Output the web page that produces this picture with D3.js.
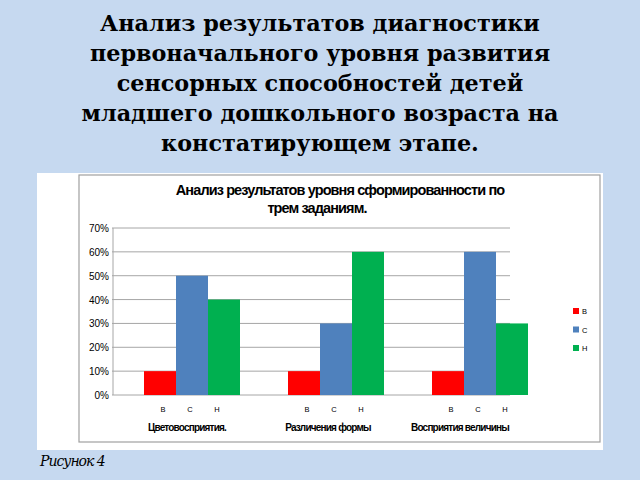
<!DOCTYPE html>
<html><head><meta charset="utf-8">
<script src="https://cdn.jsdelivr.net/npm/d3@7"></script>
<style>body{margin:0;background:#c6d9f0}</style></head>
<body><svg id="c" width="640" height="480"></svg>
<script>
const heading = ["Анализ результатов диагностики", "первоначального уровня развития",
  "сенсорных способностей детей", "младшего дошкольного возраста на", "констатирующем этапе."];
const categories = ["Цветовосприятия.", "Различения формы", "Восприятия величины"];
const series = ["В", "С", "Н"];
const colors = ["#ff0000", "#4f81bd", "#00b050"];
const values = [
  [0.10, 0.50, 0.40],
  [0.10, 0.30, 0.60],
  [0.10, 0.60, 0.30]
];
const yTicks = [0, 0.1, 0.2, 0.3, 0.4, 0.5, 0.6, 0.7];

const svg = d3.select("#c");
svg.append("rect").attr("width", 640).attr("height", 480).attr("fill", "#c6d9f0");

svg.selectAll(".h").data(heading).enter().append("text")
  .attr("x", 320).attr("y", (d, i) => 31 + i * 30)
  .attr("text-anchor", "middle")
  .attr("font-family", "DejaVu Serif").attr("font-weight", "bold").attr("font-size", 22.3)
  .text(d => d);

svg.append("rect").attr("x", 37).attr("y", 173).attr("width", 566).attr("height", 277).attr("fill", "#fff");
svg.append("rect").attr("x", 79).attr("y", 175).attr("width", 521).attr("height", 267)
  .attr("fill", "#fff").attr("stroke", "#a0a0a0").attr("stroke-width", 1.2);

svg.append("text").attr("x", 340).attr("y", 195).attr("text-anchor", "middle")
  .attr("font-family", "Liberation Sans").attr("font-weight", "bold").attr("font-size", 14.5)
  .attr("letter-spacing", -0.9)
  .text("Анализ результатов уровня сформированности по");
svg.append("text").attr("x", 317).attr("y", 213).attr("text-anchor", "middle")
  .attr("font-family", "Liberation Sans").attr("font-weight", "bold").attr("font-size", 14.5)
  .attr("letter-spacing", -0.9).text("трем заданиям.");

const y = d3.scaleLinear().domain([0, 0.7]).range([395, 228]);
const x0 = d3.scaleBand().domain(categories).range([120, 552]);
const x1 = d3.scaleBand().domain(series).range([24, 120]);

const grid = svg.append("g");
grid.selectAll("line").data(yTicks).enter().append("line")
  .attr("x1", 112).attr("x2", 510).attr("y1", d => y(d)).attr("y2", d => y(d))
  .attr("stroke", "#a6a6a6").attr("stroke-width", 1);
grid.append("line").attr("x1", 113).attr("x2", 113).attr("y1", y(0.7)).attr("y2", y(0))
  .attr("stroke", "#a6a6a6");
grid.selectAll("text").data(yTicks).enter().append("text")
  .attr("x", 109).attr("y", d => y(d) + 4).attr("text-anchor", "end")
  .attr("font-family", "Liberation Sans").attr("font-size", 10)
  .text(d => d3.format(".0%")(d));

categories.forEach((c, ci) => {
  const g = svg.append("g").attr("transform", `translate(${x0(c)},0)`);
  g.selectAll("rect").data(values[ci]).enter().append("rect")
    .attr("x", (d, i) => x1(series[i])).attr("width", x1.bandwidth())
    .attr("y", d => y(d)).attr("height", d => y(0) - y(d))
    .attr("fill", (d, i) => colors[i]);
  g.selectAll("text").data(series).enter().append("text")
    .attr("x", (d, i) => 43 + i * 27).attr("y", 412).attr("text-anchor", "middle")
    .attr("font-family", "Liberation Sans").attr("font-size", 7.5).text(d => d);
  svg.append("text").attr("x", [187, 328, 460][ci]).attr("y", 431).attr("text-anchor", "middle")
    .attr("font-family", "Liberation Sans").attr("font-weight", "bold").attr("font-size", 10)
    .attr("letter-spacing", -0.8)
    .text(c);
});

const leg = svg.append("g");
series.forEach((s, i) => {
  leg.append("rect").attr("x", 573).attr("y", 308 + i * 18.5).attr("width", 6).attr("height", 6).attr("fill", colors[i]);
  leg.append("text").attr("x", 582).attr("y", 314 + i * 18.5)
    .attr("font-family", "Liberation Sans").attr("font-size", 7.5).text(s);
});

svg.append("text").attr("x", 40).attr("y", 466)
  .attr("font-family", "DejaVu Serif").attr("font-style", "italic").attr("font-size", 14)
  .attr("letter-spacing", -1).text("Рисунок 4");
</script></body></html>
